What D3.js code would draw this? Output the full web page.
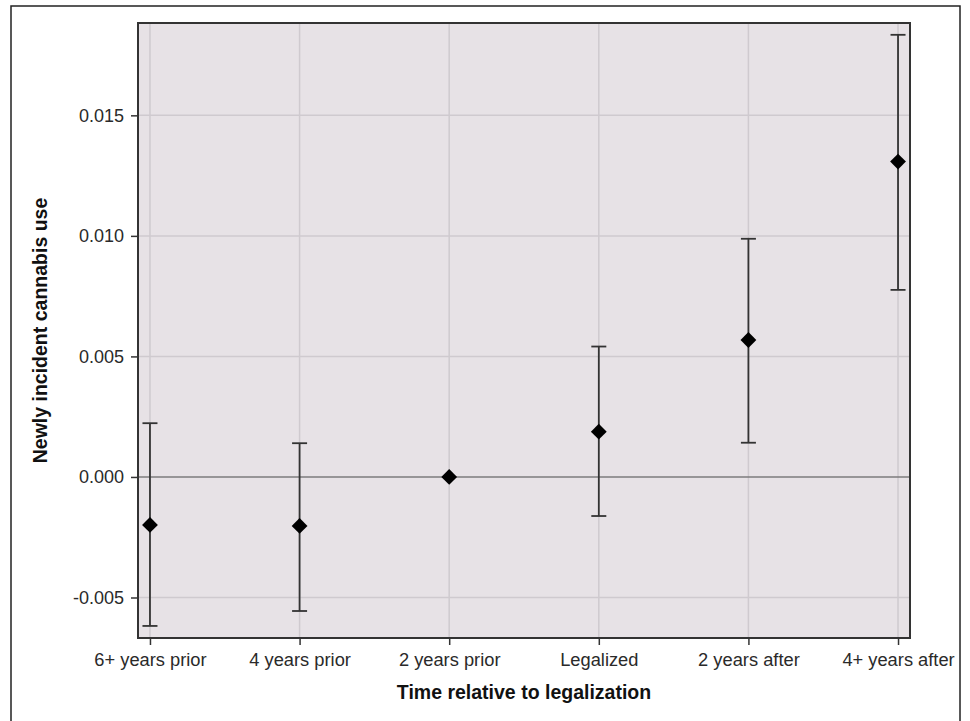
<!DOCTYPE html>
<html>
<head>
<meta charset="utf-8">
<script src="https://cdn.jsdelivr.net/npm/d3@7"></script>
<style>
  body { margin: 0; background: #fff; }
  svg { display: block; font-family: "Liberation Sans", Arial, sans-serif; }
</style>
</head>
<body>
<svg id="chart" width="970" height="721"></svg>
<script>
// categories + estimates
var periods = ["6+ years prior", "4 years prior", "2 years prior", "Legalized", "2 years after", "4+ years after"];
var estimate = [-0.00199, -0.00203, 0.0, 0.00188, 0.00568, 0.01308];
var lower = [-0.00618, -0.00556, 0.0, -0.00162, 0.00142, 0.00776];
var upper = [0.00223, 0.00140, 0.0, 0.00541, 0.00988, 0.01834];
var yTicks = [-0.005, 0.000, 0.005, 0.010, 0.015];

var svg = d3.select("#chart");

// outer frame (bottom edge sits just off the page)
svg.append("rect")
  .attr("x", 11).attr("y", 6)
  .attr("width", 949).attr("height", 720)
  .attr("fill", "none").attr("stroke", "#222").attr("stroke-width", 1.5);

var plot = {left: 138, top: 23, right: 910, bottom: 638};

var x = d3.scalePoint()
  .domain(periods)
  .range([plot.left, plot.right])
  .padding(0.08);

var y = d3.scaleLinear()
  .domain([-0.00668, 0.01883])
  .range([plot.bottom, plot.top]);

var g = svg.append("g");

// background
g.append("rect")
  .attr("x", plot.left).attr("y", plot.top)
  .attr("width", plot.right - plot.left).attr("height", plot.bottom - plot.top)
  .attr("fill", "#e7e2e6");

// grid
g.selectAll(".vgrid").data(periods).enter().append("line")
  .attr("class", "vgrid")
  .attr("x1", function(d){ return x(d); }).attr("x2", function(d){ return x(d); })
  .attr("y1", plot.top).attr("y2", plot.bottom)
  .attr("stroke", "#cfcacf").attr("stroke-width", 1.5);

g.selectAll(".hgrid").data(yTicks.filter(function(t){ return t !== 0; })).enter().append("line")
  .attr("class", "hgrid")
  .attr("x1", plot.left).attr("x2", plot.right)
  .attr("y1", function(d){ return y(d); }).attr("y2", function(d){ return y(d); })
  .attr("stroke", "#cfcacf").attr("stroke-width", 1.5);

// zero reference line
g.append("line")
  .attr("x1", plot.left).attr("x2", plot.right)
  .attr("y1", y(0)).attr("y2", y(0))
  .attr("stroke", "#7d7b7d").attr("stroke-width", 1.5);

// axes
var yAxis = d3.axisLeft(y).tickValues(yTicks).tickSize(7).tickPadding(7);
var yG = svg.append("g").attr("transform", "translate(" + plot.left + ",0)").call(yAxis);
yG.select(".domain").remove();
yG.selectAll(".tick line").attr("stroke", "#333").attr("stroke-width", 1.5);
yG.selectAll(".tick text").attr("fill", "#2a2a2a").style("font-size", "18px")
  .text(function(d){ return d < 0 ? "-" + d3.format(".3f")(-d) : d3.format(".3f")(d); });

var xAxis = d3.axisBottom(x).tickSize(7).tickPadding(8);
var xG = svg.append("g").attr("transform", "translate(0," + plot.bottom + ")").call(xAxis);
xG.select(".domain").remove();
xG.selectAll(".tick line").attr("stroke", "#333").attr("stroke-width", 1.5);
xG.selectAll(".tick text").attr("fill", "#2a2a2a").style("font-size", "18.3px");

// plot border
svg.append("rect")
  .attr("x", plot.left).attr("y", plot.top)
  .attr("width", plot.right - plot.left).attr("height", plot.bottom - plot.top)
  .attr("fill", "none").attr("stroke", "#333").attr("stroke-width", 2);

// error bars
var rows = periods.map(function(p, i){
  return {p: p, est: estimate[i], lo: lower[i], hi: upper[i]};
});
var bars = svg.append("g").selectAll("g").data(rows.filter(function(d){ return d.hi > d.lo; }))
  .enter().append("g");
bars.append("line")
  .attr("x1", function(d){ return x(d.p); }).attr("x2", function(d){ return x(d.p); })
  .attr("y1", function(d){ return y(d.lo); }).attr("y2", function(d){ return y(d.hi); })
  .attr("stroke", "#333").attr("stroke-width", 1.8);
bars.selectAll(".cap").data(function(d){ return [{p: d.p, v: d.lo}, {p: d.p, v: d.hi}]; })
  .enter().append("line")
  .attr("class", "cap")
  .attr("x1", function(d){ return x(d.p) - 7.5; }).attr("x2", function(d){ return x(d.p) + 7.5; })
  .attr("y1", function(d){ return y(d.v); }).attr("y2", function(d){ return y(d.v); })
  .attr("stroke", "#333").attr("stroke-width", 1.8);

// diamond markers
var diamond = d3.symbol().type(d3.symbolSquare).size(125);
svg.append("g").selectAll("path").data(rows).enter().append("path")
  .attr("d", diamond)
  .attr("transform", function(d){ return "translate(" + x(d.p) + "," + y(d.est) + ") rotate(45)"; })
  .attr("fill", "#000");

// axis titles
svg.append("text")
  .attr("x", (plot.left + plot.right) / 2).attr("y", 699)
  .attr("text-anchor", "middle")
  .style("font-size", "19.5px").style("font-weight", "bold").attr("fill", "#111")
  .text("Time relative to legalization");

svg.append("text")
  .attr("transform", "translate(47," + ((plot.top + plot.bottom) / 2) + ") rotate(-90)")
  .attr("text-anchor", "middle")
  .style("font-size", "19.5px").style("font-weight", "bold").attr("fill", "#111")
  .text("Newly incident cannabis use");
</script>
</body>
</html>
